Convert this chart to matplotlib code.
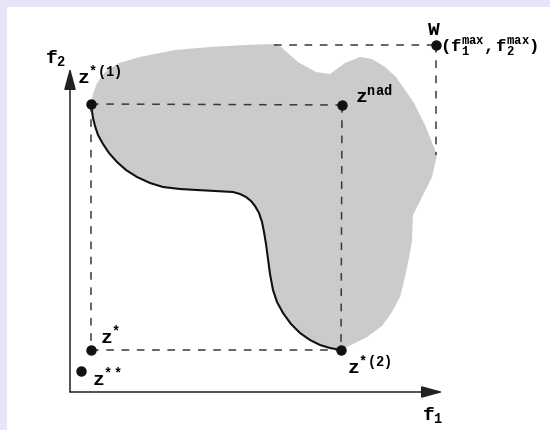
import matplotlib
matplotlib.use("Agg")
import matplotlib.pyplot as plt
from matplotlib.patches import Polygon

# 字体：打字机风格粗体
plt.rcParams['mathtext.fontset'] = 'custom'
plt.rcParams['mathtext.rm'] = 'Liberation Mono:bold'
plt.rcParams['mathtext.it'] = 'Liberation Mono:bold'
plt.rcParams['mathtext.bf'] = 'Liberation Mono:bold'
plt.rcParams['font.family'] = 'Liberation Mono'

# 目标空间中的特殊点 (f1, f2)
z1 = (21, 288)        # z*(1)
z2 = (271, 42)        # z*(2)
z_nad = (272, 287)    # 最低点 nadir
z_ideal = (21, 42)    # z*
z_utop = (11, 21)     # z**
w_point = (366, 347)  # W (f1max, f2max)

# 可行域边界（上方与右侧）
region_f1 = [21, 23, 27, 35, 49, 70, 105, 140, 175, 204, 211, 228, 246, 260, 275, 290,
             302, 315, 326, 344, 355, 367, 362, 352, 343, 342, 340, 335, 330, 322,
             312, 297, 285, 277, 271]
region_f2 = [288, 298, 309, 320, 329, 335, 342, 345, 347, 348, 345, 330, 320, 318, 329,
             335, 333, 325, 315, 289, 267, 237, 215, 195, 177, 152, 139, 115, 95, 80,
             66, 55, 49, 45, 42]

# Pareto 前沿 (从 z*(2) 回到 z*(1))
front_f1 = [271, 260, 250, 240, 230, 221, 213, 207, 203, 200, 198, 196, 194, 192,
            189, 185, 181, 176, 170, 163, 145, 127, 110, 93, 80, 67, 56, 47, 39, 33,
            28, 25, 23, 22, 21]
front_f2 = [42, 44, 47, 52, 59, 68, 79, 90, 102, 118, 133, 148, 160, 170, 179, 186,
            191, 195, 198, 200, 201, 202, 203, 205, 209, 215, 222, 230, 239, 248,
            257, 266, 274, 281, 288]

fig = plt.figure(figsize=(5.5, 4.3), dpi=100, facecolor='#e7e5f8')
ax = fig.add_axes([7 / 550, 0, 543 / 550, 423 / 430])
ax.set_facecolor('white')
ax.set_xlim(-63, 480)
ax.set_ylim(-38, 385)
ax.set_xticks([])
ax.set_yticks([])
for s in ax.spines.values():
    s.set_visible(False)

# 灰色可行域
poly_pts = list(zip(region_f1, region_f2)) + list(zip(front_f1, front_f2))
ax.add_patch(Polygon(poly_pts, closed=True, facecolor='#cbcbcb', edgecolor='none'))
ax.plot(front_f1, front_f2, color='#111111', lw=1.5, solid_capstyle='round',
        solid_joinstyle='round')

# 虚线
dash = dict(color='#3a3a3a', lw=1.1, dashes=(5, 5))
ax.plot([z1[0], z_nad[0]], [z1[1], z_nad[1]], **dash)
ax.plot([z_nad[0], z2[0]], [z_nad[1], z2[1]], **dash)
ax.plot([z1[0], z_ideal[0]], [z1[1], z_ideal[1]], **dash)
ax.plot([z_ideal[0], z2[0]], [z_ideal[1], z2[1]], **dash)
ax.plot([204, w_point[0]], [w_point[1], w_point[1]], **dash)
ax.plot([w_point[0], w_point[0]], [w_point[1], 237], **dash)

# 坐标轴箭头
arrow = dict(arrowstyle='-|>,head_length=1.1,head_width=0.3', color='#222222', lw=1.1,
             shrinkA=0, shrinkB=0, mutation_scale=12)
ax.annotate('', xy=(373, 0), xytext=(0, 0), arrowprops=arrow)
ax.annotate('', xy=(0, 324), xytext=(0, 0), arrowprops=arrow)

# 点
pts = [z1, z2, z_nad, z_ideal, z_utop, w_point]
ax.plot([p[0] for p in pts], [p[1] for p in pts], 'o', color='#111111', ms=6.5)

fs = 14
ax.text(-25, 329, r'$\mathrm{f}_{\mathrm{2}}$', fontsize=fs, va='baseline', ha='left')
ax.text(352, -28, r'$\mathrm{f}_{\mathrm{1}}$', fontsize=fs, va='baseline', ha='left')
ax.text(7, 309, r'$\mathrm{z}^{\mathrm{*(1)}}$', fontsize=fs, va='baseline', ha='left')
ax.text(285, 290, r'$\mathrm{z}^{\mathrm{nad}}$', fontsize=fs, va='baseline', ha='left')
ax.text(277, 19, r'$\mathrm{z}^{\mathrm{*(2)}}$', fontsize=fs, va='baseline', ha='left')
ax.text(30, 49, r'$\mathrm{z}^{\mathrm{*}}$', fontsize=fs, va='baseline', ha='left')
ax.text(22, 7, r'$\mathrm{z}^{\mathrm{**}}$', fontsize=fs, va='baseline', ha='left')
ax.text(357, 357, r'$\mathrm{W}$', fontsize=fs, va='baseline', ha='left')
ax.text(370, 344, r'$(\mathrm{f}_{\mathrm{1}}^{\mathrm{max}}\mathrm{,f}_{\mathrm{2}}^{\mathrm{max}})$',
        fontsize=12.5, va='center', ha='left')

fig.savefig('out.png', dpi=100, facecolor=fig.get_facecolor())
